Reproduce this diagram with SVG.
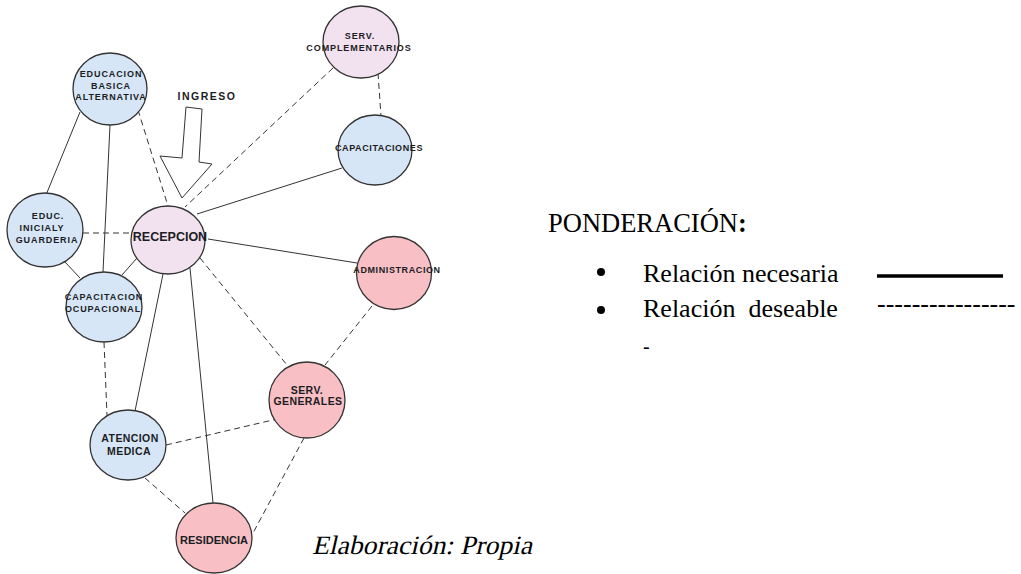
<svg xmlns="http://www.w3.org/2000/svg" width="1021" height="574" viewBox="0 0 1021 574">
<style>
.n{stroke:#333;stroke-width:1.3}
.blue{fill:#d6e6f6}
.pink{fill:#f2e1ee}
.red{fill:#f8c0c4}
.lbl{font-family:"Liberation Sans",Arial,sans-serif;font-weight:bold;fill:#1c1c24;text-anchor:middle}
.s9{font-size:9px;letter-spacing:0.9px}
.s10{font-size:10.5px;letter-spacing:0.4px}
.c line{stroke:#333;stroke-width:1}
.c .d{stroke-dasharray:6 4}
.t{font-family:"Liberation Serif","Times New Roman",serif;font-size:26px;fill:#000}
</style>
<rect width="1021" height="574" fill="#fff"/>
<g id="connectors" class="c">
<line x1="80" y1="112" x2="46" y2="195"/>
<line x1="110" y1="125" x2="103" y2="272"/>
<line x1="65" y1="262" x2="80" y2="278"/>
<line x1="137" y1="258" x2="122" y2="275"/>
<line x1="197" y1="214" x2="342" y2="168"/>
<line x1="208" y1="239" x2="357" y2="263"/>
<line x1="163" y1="274" x2="135" y2="411"/>
<line x1="190" y1="268" x2="213" y2="503"/>
<line class="d" x1="138" y1="110" x2="168" y2="206"/>
<line class="d" x1="333" y1="68" x2="185" y2="207"/>
<line class="d" x1="378" y1="73" x2="381" y2="116"/>
<line class="d" x1="83" y1="233" x2="132" y2="233"/>
<line class="d" x1="200" y1="258" x2="287" y2="365"/>
<line class="d" x1="372" y1="306" x2="325" y2="365"/>
<line class="d" x1="104" y1="342" x2="107" y2="415"/>
<line class="d" x1="166" y1="445" x2="277" y2="419"/>
<line class="d" x1="145" y1="478" x2="185" y2="513"/>
<line class="d" x1="304" y1="438" x2="253" y2="533"/>
</g>
<g id="ingreso">
<polygon points="186,107 202,109 199,162 212,164 182,198 160,156 182,158" fill="#fff" stroke="#333" stroke-width="1"/>
<text class="lbl" x="207" y="100" style="font-size:10.5px;letter-spacing:1.5px">INGRESO</text>
</g>
<g id="educacion-basica">
<ellipse class="n blue" cx="110" cy="89" rx="37" ry="36"/>
<text class="lbl s9" x="111" y="77">EDUCACION</text>
<text class="lbl s9" x="111" y="88.5">BASICA</text>
<text class="lbl s9" x="111" y="100">ALTERNATIVA</text>
</g>
<g id="serv-complementarios">
<ellipse class="n pink" cx="361" cy="42" rx="38" ry="36"/>
<text class="lbl s9" x="360" y="38.5">SERV.</text>
<text class="lbl s9" x="359" y="50.5">COMPLEMENTARIOS</text>
</g>
<g id="capacitaciones">
<ellipse class="n blue" cx="375" cy="150" rx="37" ry="35"/>
<text class="lbl s9" x="379" y="151" style="letter-spacing:0.6px">CAPACITACIONES</text>
</g>
<g id="educ-inicial">
<ellipse class="n blue" cx="45" cy="230" rx="38" ry="37"/>
<text class="lbl s9" x="48" y="218.5">EDUC.</text>
<text class="lbl s9" x="42" y="230.5">INICIALY</text>
<text class="lbl s9" x="47" y="243">GUARDERIA</text>
</g>
<g id="recepcion">
<ellipse class="n pink" cx="168" cy="240" rx="37" ry="34"/>
<text class="lbl" x="170" y="241" style="font-size:12.5px">RECEPCION</text>
</g>
<g id="administracion">
<ellipse class="n red" cx="394" cy="273" rx="37.5" ry="36.5"/>
<text class="lbl s9" x="397" y="273" style="letter-spacing:0.6px">ADMINISTRACION</text>
</g>
<g id="capacitacion-ocupacional">
<ellipse class="n blue" cx="104" cy="307" rx="38" ry="35"/>
<text class="lbl s9" x="104" y="300">CAPACITACION</text>
<text class="lbl s9" x="103" y="312">OCUPACIONAL</text>
</g>
<g id="serv-generales">
<ellipse class="n red" cx="307" cy="400" rx="38" ry="38"/>
<text class="lbl s10" x="307" y="393.5">SERV.</text>
<text class="lbl s10" x="308" y="405">GENERALES</text>
</g>
<g id="atencion-medica">
<ellipse class="n blue" cx="128" cy="445" rx="38" ry="35"/>
<text class="lbl s10" x="130" y="442">ATENCION</text>
<text class="lbl s10" x="129" y="454.5">MEDICA</text>
</g>
<g id="residencia">
<ellipse class="n red" cx="214" cy="538" rx="38" ry="35"/>
<text class="lbl" x="214" y="543.5" style="font-size:11px">RESIDENCIA</text>
</g>
<g id="legend">
<text class="t" x="548" y="232" style="font-size:26.5px">PONDERACIÓN<tspan font-weight="bold">:</tspan></text>
<circle cx="601" cy="272" r="4" fill="#000"/>
<text class="t" x="643" y="282">Relación necesaria</text>
<line x1="877" y1="276" x2="1003" y2="276" stroke="#000" stroke-width="3.5"/>
<circle cx="601" cy="310" r="4" fill="#000"/>
<text class="t" x="643" y="317" style="white-space:pre">Relación  deseable</text>
<text class="t" x="877" y="312">----------------</text>
<text class="t" x="643" y="353" style="font-size:20px">-</text>
</g>
<text class="t" transform="translate(0,554) skewX(-13)" x="312" y="0" textLength="220" lengthAdjust="spacingAndGlyphs" style="font-size:26.5px">Elaboración: Propia</text>
</svg>
